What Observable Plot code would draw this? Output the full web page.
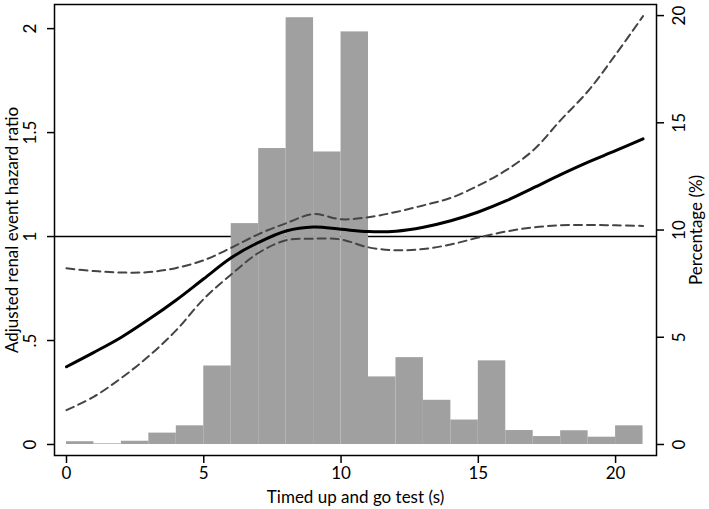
<!DOCTYPE html>
<html>
<head>
<meta charset="utf-8">
<script src="https://cdn.jsdelivr.net/npm/d3@7"></script>
<script src="https://cdn.jsdelivr.net/npm/@observablehq/plot@0.6"></script>
<style>
  html, body { margin: 0; padding: 0; background: #fff; }
  svg { display: block; }
</style>
</head>
<body>
<div id="chart"></div>
<script>
// Timed up and go test (s) at which the spline curves were read
const tugSeconds = [0, 1, 2, 3, 4, 5, 6, 7, 8, 9, 10, 11, 12, 13, 14, 15, 16, 17, 18, 19, 20, 21];
// Adjusted renal event hazard ratio (solid) and 95% CI (dashed)
const hazardRatio = [0.374, 0.443, 0.516, 0.602, 0.695, 0.797, 0.898, 0.972, 1.027, 1.046, 1.035, 1.024, 1.026, 1.045, 1.076, 1.118, 1.171, 1.234, 1.298, 1.358, 1.413, 1.470];
const upperCI = [0.847, 0.834, 0.827, 0.829, 0.849, 0.886, 0.946, 1.012, 1.064, 1.108, 1.083, 1.093, 1.118, 1.150, 1.186, 1.245, 1.318, 1.415, 1.560, 1.700, 1.875, 2.060];
const lowerCI = [0.165, 0.230, 0.320, 0.425, 0.550, 0.700, 0.818, 0.922, 0.982, 0.990, 0.986, 0.948, 0.934, 0.940, 0.962, 0.995, 1.024, 1.044, 1.054, 1.056, 1.054, 1.051];

// Histogram: bin start (s), bin width 1 s, percentage of participants
const binStart = [0, 1, 2, 3, 4, 5, 6, 7, 8, 9, 10, 11, 12, 13, 14, 15, 16, 17, 18, 19, 20];
const binPercent = [0.13, 0.03, 0.15, 0.53, 0.87, 3.66, 10.3, 13.8, 19.9, 13.64, 19.24, 3.15, 4.05, 2.06, 1.14, 3.9, 0.65, 0.37, 0.64, 0.34, 0.87];

// Axis ticks
const xTicks = [0, 5, 10, 15, 20];
const leftTicks = [0, 0.5, 1, 1.5, 2];
const leftTickLabels = ["0", ".5", "1", "1.5", "2"];
const rightTicks = [0, 5, 10, 15, 20];

// Right axis (percent) mapped onto the left axis (hazard ratio) scale
const pctToHr = 2.0627 / 20;

const curveRows = tugSeconds.map((t, i) => ({t, hr: hazardRatio[i], lo: lowerCI[i], hi: upperCI[i]}));
const binRows = binStart.map((x0, i) => ({x0, x1: x0 + 1, pct: binPercent[i]}));

const chart = Plot.plot({
  width: 709,
  height: 509,
  marginLeft: 54,
  marginRight: 53,
  marginTop: 4,
  marginBottom: 54,
  style: {fontFamily: "Lato, 'Open Sans', sans-serif", fontSize: "17px", color: "black", background: "white"},
  x: {domain: [-0.437, 21.49]},
  y: {domain: [-0.053, 2.116]},
  marks: [
    Plot.ruleY([1], {stroke: "black", strokeWidth: 1.5}),
    Plot.rectY(binRows, {x1: "x0", x2: "x1", y: d => d.pct * pctToHr, fill: "#a0a0a0"}),
    Plot.line(curveRows, {x: "t", y: "lo", stroke: "#444", strokeWidth: 2, strokeDasharray: "8,5", curve: "catmull-rom"}),
    Plot.line(curveRows, {x: "t", y: "hi", stroke: "#444", strokeWidth: 2, strokeDasharray: "8,5", curve: "catmull-rom"}),
    Plot.line(curveRows, {x: "t", y: "hr", stroke: "black", strokeWidth: 3, curve: "catmull-rom"}),
    Plot.axisX(xTicks, {tickSize: 8, tickPadding: 3, strokeWidth: 1.5, fontSize: 17, label: "Timed up and go test (s)", labelAnchor: "center", labelArrow: "none", labelOffset: 47}),
    Plot.axisY(leftTicks, {anchor: "left", tickSize: 7, tickPadding: 12, strokeWidth: 1.5, fontSize: 17, tickRotate: -90, tickFormat: d => leftTickLabels[leftTicks.indexOf(d)], label: "Adjusted renal event hazard ratio", labelAnchor: "center", labelArrow: "none", labelOffset: 49}),
    Plot.axisY(rightTicks.map(p => p * pctToHr), {anchor: "right", tickSize: 7, tickPadding: 21, strokeWidth: 1.5, fontSize: 17, tickRotate: -90, tickFormat: d => String(Math.round(d / pctToHr)), label: "Percentage (%)", labelAnchor: "center", labelArrow: "none", labelOffset: 45}),
    Plot.frame({stroke: "black", strokeWidth: 1.5})
  ]
});
document.getElementById("chart").appendChild(chart);
</script>
</body>
</html>
